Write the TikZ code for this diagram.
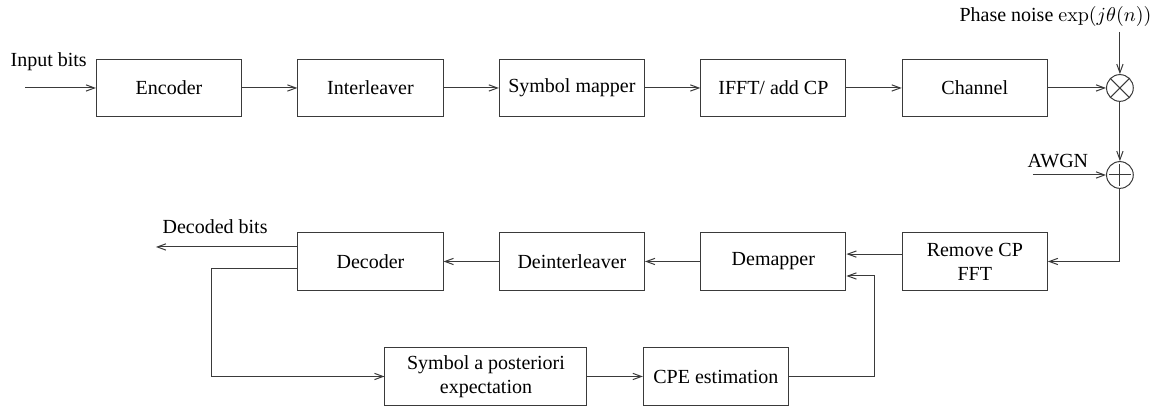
\documentclass[tikz,border=0pt]{standalone}
\usepackage{amsmath}
\usepackage[no-math]{fontspec}
\setmainfont{Liberation Serif}
\usetikzlibrary{positioning,arrows.meta,calc}
\definecolor{lineink}{HTML}{3A3A3A}
\tikzset{
  bk/.style={draw=lineink, line width=0.5pt, minimum width=2.55cm, minimum height=1.01cm,
             align=center, inner sep=2pt},
  bk wide/.style={bk, minimum width=3.55cm},
  sumnode/.style={circle, draw=lineink, line width=0.5pt, minimum size=0.47cm, inner sep=0pt},
  sig/.style={-{Straight Barb[length=1.5mm,width=1.1mm]}, line width=0.5pt, lineink},
  lbl/.style={inner sep=0pt},
}

\begin{document}
\begin{tikzpicture}[x=1cm, y=1cm, font=\rmfamily\normalsize]
  \useasboundingbox (0,0) rectangle (20.367,-7.152);
  % transmitter row
  \foreach \nm/\tx [count=\i from 0] in {enc/Encoder, intl/Interleaver, smap/Symbol mapper, ifft/{IFFT/ add CP}, chan/Channel} {
     \node[bk] (\nm) at (2.97+\i*3.54,-1.546) {\tx};
  }
  \foreach \a/\b in {enc/intl, intl/smap, smap/ifft, ifft/chan} \draw[sig] (\a) -- (\b);
  % channel impairments
  \node[sumnode] (mult) at (19.68,-1.546) {};
  \draw[lineink, line width=0.5pt] (mult.north west) -- (mult.south east) (mult.north east) -- (mult.south west);
  \node[sumnode] (add) at (19.68,-3.075) {};
  \draw[lineink, line width=0.5pt] ($(add.center)!0.8!(add.north)$) -- ($(add.center)!0.8!(add.south)$)
     ($(add.center)!0.8!(add.west)$) -- ($(add.center)!0.8!(add.east)$);
  \node[lbl, anchor=base east] (pnlbl) at (20.24,-0.37) {Phase noise $\exp(j\theta(n))$};
  \node[lbl, anchor=base west] (awlbl) at (18.05,-2.95) {AWGN};
  \node[lbl, anchor=base west] (inlbl) at (0.18,-1.177) {Input bits};
  \coordinate (pn) at (19.68,-0.56);
  \coordinate (awgn) at (18.15,-3.075);
  \coordinate (inp) at (0.44,-1.546);
  \draw[sig] (inp) -- (enc.west);
  \draw[sig] (chan) -- (mult);
  \draw[sig] (pn) -- (mult.north);
  \draw[sig] (mult) -- (add);
  \draw[sig] (awgn) -- (add.west);
  % receiver row
  \foreach \nm/\tx [count=\i from 1] in {dec/Decoder, deint/Deinterleaver, demap/Demapper, rcp/{Remove CP\\FFT}} {
     \node[bk] (\nm) at (2.97+\i*3.54,-4.595) {\tx};
  }
  \node[bk wide] (sape) at (8.54,-6.616) {Symbol a posteriori\\expectation};
  \node[bk] (cpe) at (12.58,-6.616) {CPE estimation};
  \node[lbl, anchor=base west] (outlbl) at (2.85,-4.11) {Decoded bits};
  \coordinate (outb) at (2.74,-4.34);
  \coordinate (fb) at (3.725,-6.616);
  \coordinate (ret) at (15.36,-4.85);
  \draw[sig] (add.south) |- (rcp.east);
  \draw[sig] ([yshift=0.13cm]rcp.west) -- ([yshift=0.13cm]demap.east);
  \draw[sig] (demap) -- (deint);
  \draw[sig] (deint) -- (dec);
  \draw[sig] (dec.west |- outb) -- (outb);
  \draw[sig] ([yshift=-0.13cm]dec.west) -| (fb) -- (sape.west);
  \draw[sig] (sape) -- (cpe);
  \draw[sig] (cpe.east) -| (ret) -- (demap.east |- ret);
\end{tikzpicture}
\end{document}
